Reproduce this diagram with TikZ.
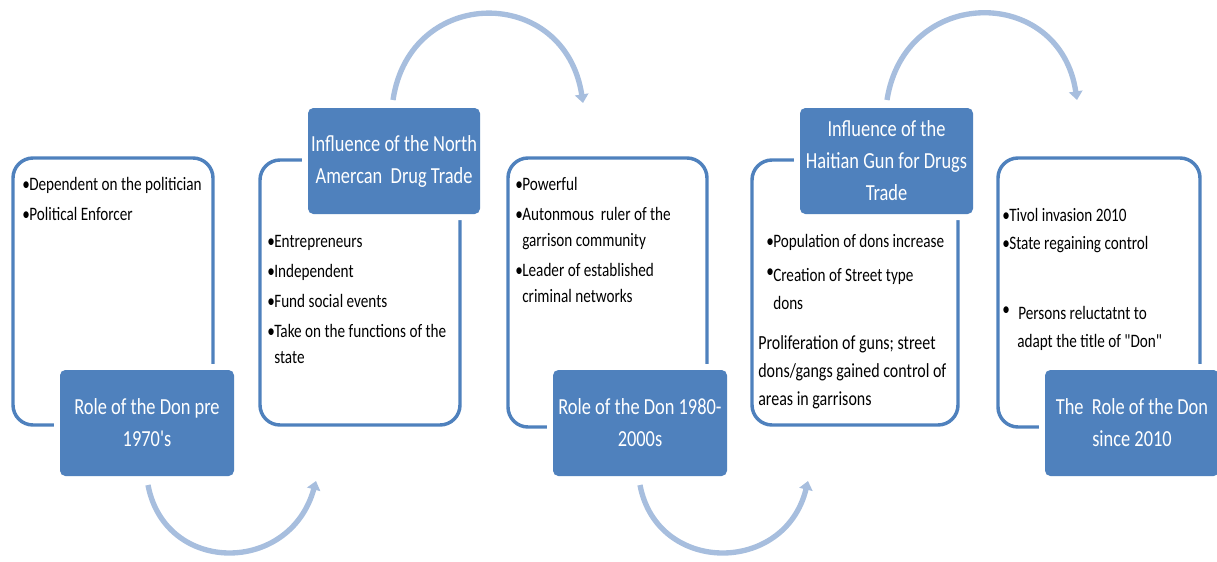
\documentclass[tikz,border=0pt]{standalone}
\usepackage{fontspec}
\setmainfont{Carlito}
\newfontfamily\narrowfont[FakeStretch=0.8]{Carlito}
\usetikzlibrary{arrows.meta}
\definecolor{dblue}{HTML}{4F81BD}
\definecolor{lblue}{HTML}{A7BEDE}
\newcommand\boxfont{\narrowfont\fontsize{17.25pt}{24pt}\selectfont}
\newcommand\bulfont{\narrowfont\fontsize{14.25pt}{19.5pt}\selectfont}
\newcommand\bulfontb{\narrowfont\fontsize{15pt}{21pt}\selectfont}
\newcommand\blines[2]{\vtop{\baselineskip=#1\lineskiplimit=-30pt\lineskip=0pt #2}}
\newcommand\bi[1]{\hbox{\makebox[5.25pt][l]{•}#1}}
\newcommand\bir[1]{\hbox{\makebox[5.25pt][l]{\raisebox{2.5pt}{•}}#1}}
\newcommand\bc[1]{\hbox{\hspace*{5.25pt}#1}}
\newcommand\pl[1]{\hbox{#1}}
\newcommand\bgap[1]{\vskip#1}
\tikzset{
  outline/.style={draw=dblue, line width=2.6pt, rounded corners=15pt, inner sep=0pt},
  bluebox/.style={fill=dblue, rounded corners=4pt, preaction={draw=white, line width=9pt},
    text=white, font=\boxfont, align=center, inner sep=0pt, minimum height=79.5pt},
  btext/.style={anchor=base west, inner sep=0pt, font=\bulfont, text=black},
  flow/.style={draw=lblue, line width=4pt, -{Triangle[width=10pt,length=6.5pt]}},
}
\begin{document}
\begin{tikzpicture}[x=0.75pt, y=-0.75pt]
\useasboundingbox (0,0) rectangle (1217,561);
% outline boxes
\node[outline, minimum width=150pt, minimum height=200.25pt] (o1) at (113,291.5) {};
\node[outline, minimum width=150pt, minimum height=198.75pt] (o2) at (360,292.5) {};
\node[outline, minimum width=149.25pt, minimum height=201.75pt] (o3) at (607.5,292.5) {};
\node[outline, minimum width=154.5pt, minimum height=198.75pt] (o4) at (855,292.5) {};
\node[outline, minimum width=151.5pt, minimum height=201.75pt] (o5) at (1099,292.5) {};
% blue title boxes
\node[bluebox, minimum width=130.5pt] (b1) at (147,423) {Role of the Don pre\\1970's};
\node[bluebox, minimum width=129pt] (b2) at (394,161) {Influence of the North\\Amercan\ \ Drug Trade};
\node[bluebox, minimum width=130.5pt] (b3) at (640,423) {Role of the Don 1980-\\2000s};
\node[bluebox, minimum width=129.75pt] (b4) at (886.5,161) {Influence of the\\Haitian Gun for Drugs\\Trade};
\node[bluebox, minimum width=130.5pt] (b5) at (1132,423) {The\ \ Role of the Don\\since 2010};
% texts
\node[btext] (t1) at (22,190) {\blines{19.5pt}{\bi{Dependent on the politician}\bgap{3pt}\bi{Political Enforcer}}};
\node[btext] (t2) at (267,247) {\blines{19.5pt}{\bi{Entrepreneurs}\bgap{3pt}\bi{Independent}\bgap{3pt}\bi{Fund social events}\bgap{3pt}\bi{Take on the functions of the}\bc{state}}};
\node[btext] (t3) at (515,190) {\blines{19.5pt}{\bi{Powerful}\bgap{3pt}\bi{Autonmous\ \ ruler of the}\bc{garrison community}\bgap{3pt}\bi{Leader of established}\bc{criminal networks}}};
\node[btext] (t4) at (766,247) {\blines{21pt}{\bi{Population\ of dons increase}\bgap{4.5pt}\bir{Creation of Street type}\bc{dons}}};
\node[btext, font=\bulfontb] (t4b) at (758,349) {\blines{21pt}{\pl{Proliferation of guns; street}\pl{dons/gangs gained control of}\pl{areas in garrisons}}};
\node[btext] (t5) at (1002,221) {\blines{21pt}{\bi{Tivol invasion 2010}\bi{State regaining control}\bgap{31.5pt}\pl{\makebox[12pt][l]{\raisebox{2.5pt}{•}}Persons reluctatnt to}\pl{\hspace*{11.25pt}adapt the title of "Don"}}};
% flow arcs
\coordinate (a1s) at (148,485); \coordinate (a1e) at (316,481);
\coordinate (a2s) at (393,100); \coordinate (a2e) at (583,103);
\coordinate (a3s) at (640,485); \coordinate (a3e) at (808,481);
\coordinate (a4s) at (887,100); \coordinate (a4e) at (1077,100);
\draw[flow] (a1s) .. controls (165,575) and (290,575) .. (a1e);
\draw[flow] (a2s) .. controls (410,-15) and (565,-15) .. (a2e);
\draw[flow] (a3s) .. controls (657,575) and (785,575) .. (a3e);
\draw[flow] (a4s) .. controls (905,-15) and (1060,-15) .. (a4e);
\end{tikzpicture}
\end{document}
